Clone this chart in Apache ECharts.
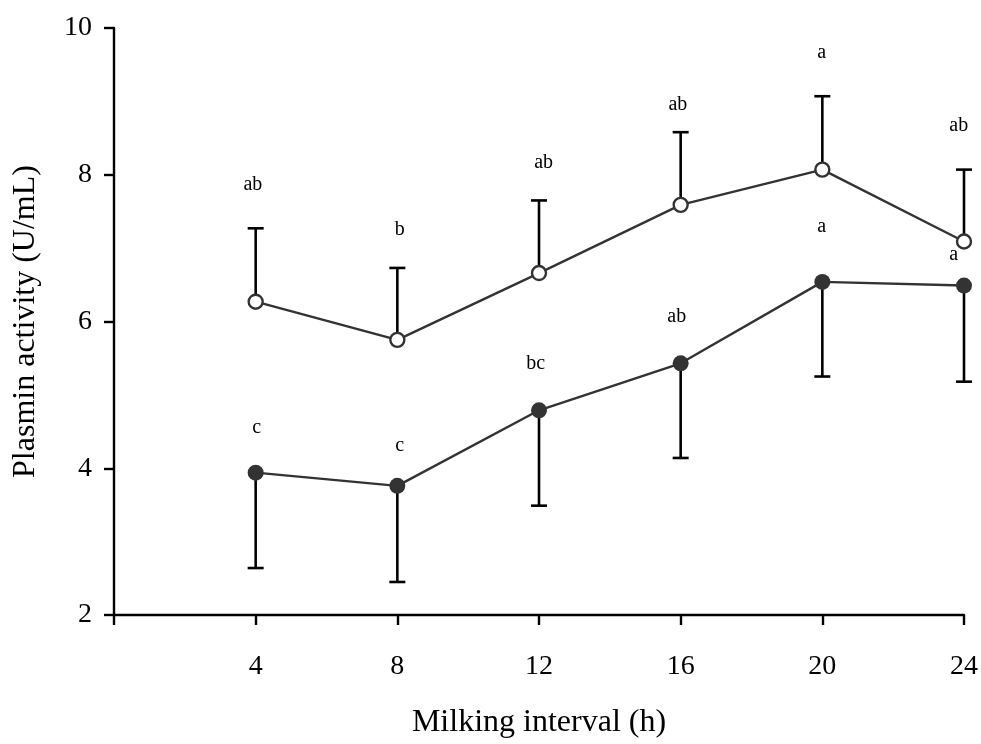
<!DOCTYPE html>
<html>
<head>
<meta charset="utf-8">
<script src="https://cdn.jsdelivr.net/npm/echarts@6/dist/echarts.min.js"></script>
<style>
  html, body { margin: 0; padding: 0; background: #fff; }
  #chart { width: 981px; height: 744px; }
</style>
</head>
<body>
<div id="chart"></div>
<script>
// ---- data ----
var intervals = [4, 8, 12, 16, 20, 24];
var openMean = [6.27, 5.75, 6.66, 7.59, 8.07, 7.09];
var openErrTop = [7.27, 6.73, 7.65, 8.58, 9.07, 8.07];
var filledMean = [3.94, 3.76, 4.79, 5.43, 6.54, 6.49];
var filledErrBottom = [2.64, 2.45, 3.49, 4.14, 5.25, 5.18];
var openLetters = ['ab', 'b', 'ab', 'ab', 'a', 'ab'];
var openLetterX = [3.92, 8.07, 12.13, 15.92, 19.98, 23.85];
var openLetterY = [7.86, 7.25, 8.16, 8.96, 9.66, 8.67];
var filledLetters = ['c', 'c', 'bc', 'ab', 'a', 'a'];
var filledLetterX = [4.03, 8.07, 11.91, 15.89, 19.98, 23.71];
var filledLetterY = [4.55, 4.30, 5.43, 6.07, 7.29, 6.91];
var xTicks = [0, 4, 8, 12, 16, 20, 24];
var yTicks = [2, 4, 6, 8, 10];

// ---- build ----
var FONT = '"Liberation Serif", "Times New Roman", serif';
function pairs(xs, ys) { return xs.map(function (x, i) { return [x, ys[i]]; }); }

function errRender(params, api) {
  var x = api.value(0), a = api.value(1), b = api.value(2);
  var p1 = api.coord([x, a]);
  var p2 = api.coord([x, b]);
  var half = 8;
  return {
    type: 'group',
    children: [
      { type: 'line', shape: { x1: p1[0], y1: p1[1], x2: p2[0], y2: p2[1] },
        style: { stroke: '#000', lineWidth: 2.6 } },
      { type: 'line', shape: { x1: p2[0] - half, y1: p2[1], x2: p2[0] + half, y2: p2[1] },
        style: { stroke: '#000', lineWidth: 2.6 } }
    ]
  };
}
function makeTextRender(texts) {
  return function (params, api) {
    var p = api.coord([api.value(0), api.value(1)]);
    return {
      type: 'text', x: p[0], y: p[1],
      style: { text: texts[params.dataIndex], font: '20px ' + FONT, fill: '#000',
               align: 'center', verticalAlign: 'middle' }
    };
  };
}

var openErrData = intervals.map(function (x, i) { return [x, openMean[i], openErrTop[i]]; });
var filledErrData = intervals.map(function (x, i) { return [x, filledMean[i], filledErrBottom[i]]; });
var openLetterData = pairs(openLetterX, openLetterY);
var filledLetterData = pairs(filledLetterX, filledLetterY);

var chart = echarts.init(document.getElementById('chart'), null, { renderer: 'canvas' });
chart.setOption({
  animation: false,
  backgroundColor: '#fff',
  grid: { left: 114, right: 17, top: 28, bottom: 120, containLabel: false },
  xAxis: {
    type: 'value', min: xTicks[0], max: xTicks[xTicks.length - 1], interval: 4,
    name: 'Milking interval (h)', nameLocation: 'middle', nameGap: 92,
    nameTextStyle: { fontFamily: FONT, fontSize: 32, color: '#000' },
    axisLine: { show: true, onZero: false, lineStyle: { color: '#000', width: 2.4 } },
    axisTick: { show: true, length: 10, lineStyle: { color: '#000', width: 2.4 } },
    axisLabel: { margin: 38, fontFamily: FONT, fontSize: 28, color: '#000',
      formatter: function (v) { return v === 0 ? '' : String(v); } },
    splitLine: { show: false }
  },
  yAxis: {
    type: 'value', min: yTicks[0], max: yTicks[yTicks.length - 1], interval: 2,
    name: 'Plasmin activity (U/mL)', nameLocation: 'middle', nameGap: 72, nameRotate: 90,
    nameTextStyle: { fontFamily: FONT, fontSize: 32, color: '#000' },
    axisLine: { show: true, onZero: false, lineStyle: { color: '#000', width: 2.4 } },
    axisTick: { show: true, length: 10, lineStyle: { color: '#000', width: 2.4 } },
    axisLabel: { margin: 22, fontFamily: FONT, fontSize: 28, color: '#000' },
    splitLine: { show: false }
  },
  series: [
    { type: 'custom', renderItem: errRender, data: openErrData, z: 1, silent: true },
    { type: 'custom', renderItem: errRender, data: filledErrData, z: 1, silent: true },
    {
      type: 'line', data: pairs(intervals, openMean), z: 3,
      symbol: 'circle', symbolSize: 14, showSymbol: true,
      lineStyle: { color: '#333', width: 2.4 },
      itemStyle: { color: '#fff', borderColor: '#333', borderWidth: 2.4 }
    },
    {
      type: 'line', data: pairs(intervals, filledMean), z: 3,
      symbol: 'circle', symbolSize: 16, showSymbol: true,
      lineStyle: { color: '#333', width: 2.4 },
      itemStyle: { color: '#333', borderColor: '#333', borderWidth: 0 }
    },
    { type: 'custom', renderItem: makeTextRender(openLetters), data: openLetterData, z: 4, silent: true },
    { type: 'custom', renderItem: makeTextRender(filledLetters), data: filledLetterData, z: 4, silent: true }
  ]
});
</script>
</body>
</html>
